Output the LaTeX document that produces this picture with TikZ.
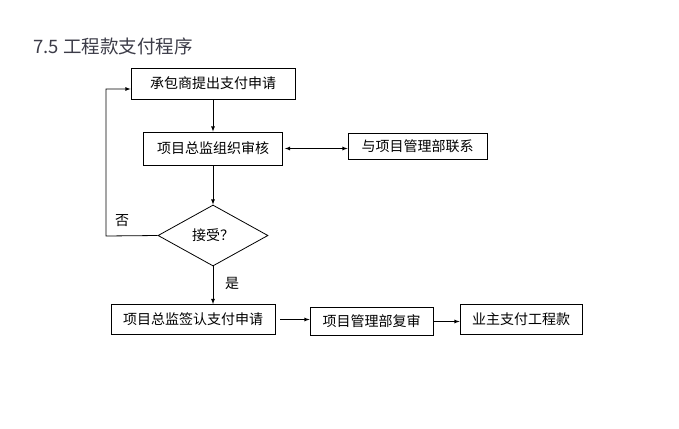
\documentclass[tikz,border=0pt]{standalone}
\usepackage{fontspec}
\setmainfont{Noto Sans CJK SC}
\usetikzlibrary{arrows, shapes}
\definecolor{titlegray}{RGB}{60,60,72}

\begin{document}
\begin{tikzpicture}[x=1pt, y=-1pt, line width=0.8pt]
    \useasboundingbox (0,0) rectangle (679,428);
    \tikzstyle{every node} = [inner sep=0pt, font=\fontsize{14}{16}\selectfont]
    \tikzstyle{box} = [draw, shape=rectangle, minimum height=30pt]
    \node (title) [anchor=west, text=titlegray, font=\fontsize{18.5}{20}\selectfont] at (33,46) {7.5 工程款支付程序};
    \node (b1) [box, minimum width=164pt, minimum height=31pt] at (213,83.5) {承包商提出支付申请};
    \node (b2) [box, minimum width=139pt, minimum height=33pt] at (213,148.5) {项目总监组织审核};
    \node (b3) [box, minimum width=139pt, minimum height=26pt] at (417.5,146) {与项目管理部联系};
    \node (d) [draw, shape=diamond, minimum width=110pt, minimum height=61pt] at (213,235.5) {接受？};
    \node (b4) [box, minimum width=164pt] at (193,319.5) {项目总监签认支付申请};
    \node (b5) [box, minimum width=123pt, minimum height=28pt] at (371.5,321.5) {项目管理部复审};
    \node (b6) [box, minimum width=122pt] at (521,319.5) {业主支付工程款};
    \node (no) at (122,221) {否};
    \node (yes) at (232,283) {是};
    \coordinate (lp) at (106,236);
      \draw [-latex] (b1) -- (b2);
      \draw [-latex] (b2) -- (d);
      \draw [latex-latex] ([xshift=2pt]b2.east) -- (b2.east -| b3.west);
      \draw [-latex] (d.south) -- (d.south |- b4.north);
      \draw [-latex] (d.west) -- (lp) |- ([yshift=-5.5pt]b1.west);
      \draw [-latex] ([xshift=5pt]b4.east) -- (b4.east -| b5.west);
      \draw [-latex] (b5.east) -- (b5.east -| b6.west);
  \end{tikzpicture}
\end{document}
